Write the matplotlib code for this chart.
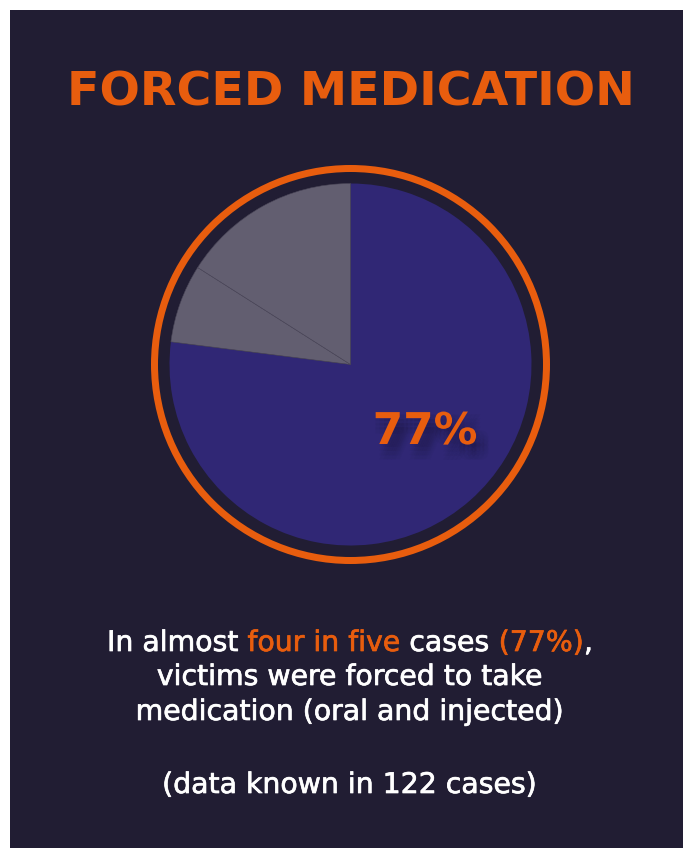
import matplotlib
matplotlib.use("Agg")
import matplotlib.pyplot as plt
from matplotlib.patches import Rectangle, Circle
import matplotlib.patheffects as pe

# ---- data ----
labels = ["Forced medication", "Other A", "Other B"]
values = [77, 7, 16]
highlight_label = "77%"
title = "FORCED MEDICATION"
line1_parts = [("In almost", "w"), ("four in five", "o"), ("cases", "w"), ("(77%)", "o"), (",", "w")]
line1_full = "In almost four in five cases (77%),"
other_lines = ["victims were forced to take", "medication (oral and injected)", "", "(data known in 122 cases)"]

# ---- style ----
BG = "#211d33"
PURPLE = "#302775"
GREY = "#625e70"
ORANGE = "#e85d0e"
WHITE = "#ffffff"
FONT = "DejaVu Sans"

W, H = 683, 848
fig = plt.figure(figsize=(W / 100, H / 100), dpi=100, facecolor="white")
ax = fig.add_axes([0, 0, 1, 1])
ax.set_axis_off()

ax.add_patch(Rectangle((10, 0), W - 10, H - 10, facecolor=BG, edgecolor="none", zorder=0))

cx, cy = 350.5, H - 364.5
wedges, _ = ax.pie(values, colors=[PURPLE, GREY, GREY], startangle=90, counterclock=False,
                   center=(cx, cy), radius=181,
                   wedgeprops=dict(linewidth=0.4, edgecolor="#4a4658"))
wedges[0].set_edgecolor(PURPLE)
wedges[0].set_linewidth(0)
ax.add_patch(Circle((cx, cy), 196, fill=False, edgecolor=ORANGE, linewidth=7 * 0.72, zorder=5))

ax.set_xlim(0, W)
ax.set_ylim(0, H)
ax.set_aspect("auto")

# title
ax.text(351, H - 105, title, ha="center", va="baseline", color=ORANGE,
        fontsize=34.2, fontweight="bold", family=FONT, zorder=6)

# 77% label with soft, diffuse shadow
shadow = []
for dx in (0, 3, 6, 9):
    for dy in (-2, -5, -8, -11):
        shadow.append(pe.withStroke(linewidth=6, foreground="#15112e", alpha=0.035,
                                    offset=(dx, dy)) if False else
                      pe.SimplePatchShadow(offset=(dx, dy), shadow_rgbFace="#15112e", alpha=0.045))
ax.text(425, H - 444, highlight_label, ha="center", va="baseline", color=ORANGE,
        fontsize=31.5, fontweight="bold", family=FONT, zorder=6,
        path_effects=shadow + [pe.Normal()])

# body text
fs = 20.4
body_fx = [pe.withStroke(linewidth=0.5, foreground=WHITE)]
renderer = fig.canvas.get_renderer()

def width(s):
    t = ax.text(0, 0, s, fontsize=fs, family=FONT)
    w = t.get_window_extent(renderer).width
    t.remove()
    return w

total = width(line1_full)
left = 350 - total / 2
idx = 0
for seg, c in line1_parts:
    i = line1_full.index(seg, idx)
    end = i + len(seg)
    x0 = left + width(line1_full[:end]) - width(seg)
    col = ORANGE if c == "o" else WHITE
    ax.text(x0, H - 651, seg, ha="left", va="baseline", fontsize=fs, family=FONT,
            color=col, zorder=6,
            path_effects=[pe.withStroke(linewidth=0.5, foreground=col)])
    idx = end

baselines = [685, 720, 0, 793]
for s, b in zip(other_lines, baselines):
    if s:
        ax.text(350, H - b, s, ha="center", va="baseline", fontsize=fs, family=FONT,
                color=WHITE, zorder=6, path_effects=body_fx)

fig.savefig("out.png", dpi=100, facecolor=fig.get_facecolor())
